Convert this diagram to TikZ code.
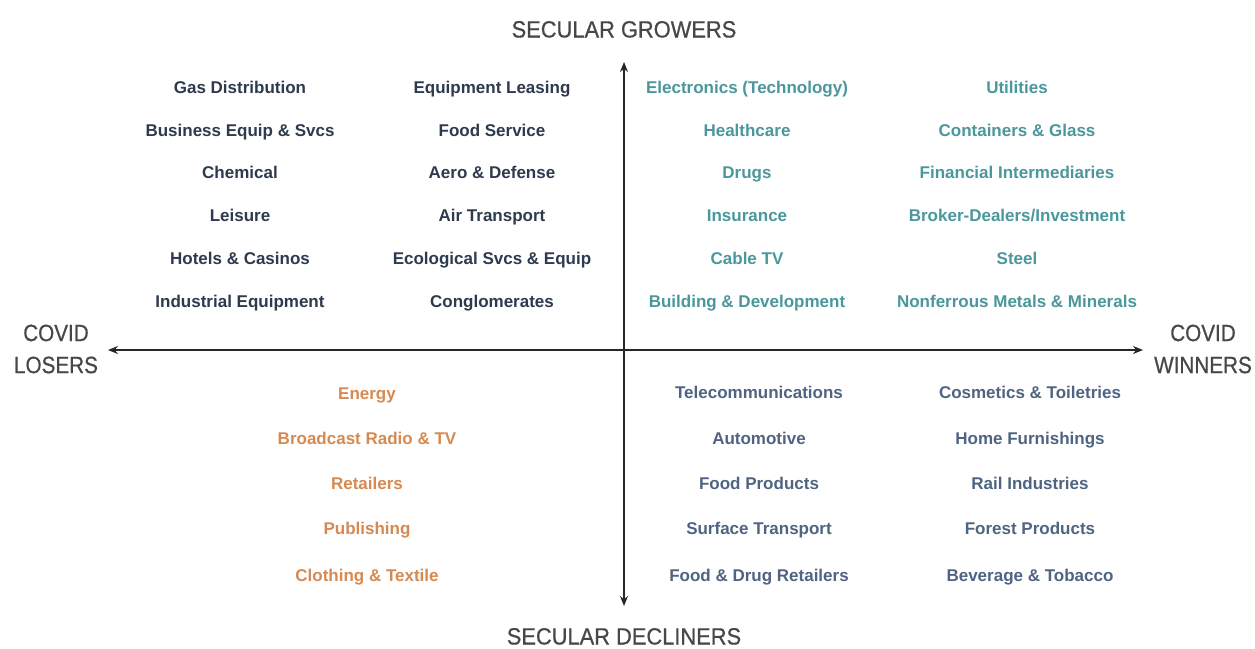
\documentclass[tikz,border=0pt]{standalone}
\usepackage{fontspec}
\setmainfont{Liberation Sans}
\newfontfamily\axisfont[FakeStretch=0.88,FakeBold=0.6]{Liberation Sans}
\newfontfamily\secfont[FakeStretch=0.93,FakeBold=0.6]{Liberation Sans}
\usetikzlibrary{arrows.meta}
\definecolor{navy}{HTML}{2E3A4E}
\definecolor{teal}{HTML}{4A979C}
\definecolor{orng}{HTML}{D68A52}
\definecolor{slate}{HTML}{4F6482}
\definecolor{axisgray}{HTML}{474747}
\tikzset{
  item/.style={font=\bfseries\fontsize{17}{20}\selectfont, inner sep=0pt, text height=12.2pt, text depth=0pt, anchor=center},
  tl/.style={item, text=navy},
  tr/.style={item, text=teal},
  bl/.style={item, text=orng},
  br/.style={item, text=slate},
  axlabel/.style={font=\axisfont\fontsize{23.5}{32}\selectfont, text=axisgray, align=center, inner sep=0pt},
  seclabel/.style={font=\secfont\fontsize{23.5}{28}\selectfont, text=axisgray, inner sep=0pt, text height=17pt, text depth=0pt},
  axis/.style={draw=black!85, line width=1.4pt, {Stealth[length=10pt,width=8pt]}-{Stealth[length=10pt,width=8pt]}}
}
\begin{document}
\begin{tikzpicture}[x=1pt,y=-1pt]
\useasboundingbox (0,0) rectangle (1255,648);
\fill[white] (0,0) rectangle (1255,648);
% axes
\coordinate (vtop) at (624,62);
\coordinate (vbot) at (624,606);
\coordinate (hl) at (108,350);
\coordinate (hr) at (1143,350);
\draw[axis] (vbot) -- (vtop);
\draw[axis] (hl) -- (hr);
% axis labels
\node[seclabel] (grow) at (624,29) {SECULAR GROWERS};
\node[seclabel] (decl) at (624,636) {SECULAR DECLINERS};
\node[axlabel] (lose) at (56,349) {COVID\\LOSERS};
\node[axlabel] (win) at (1203,349) {COVID\\WINNERS};
% top-left
\node[tl] (a1) at (240,87) {Gas Distribution};
\node[tl] (a2) at (240,130) {Business Equip \& Svcs};
\node[tl] (a3) at (240,172) {Chemical};
\node[tl] (a4) at (240,215) {Leisure};
\node[tl] (a5) at (240,258) {Hotels \& Casinos};
\node[tl] (a6) at (240,301) {Industrial Equipment};
\node[tl] (b1) at (492,87) {Equipment Leasing};
\node[tl] (b2) at (492,130) {Food Service};
\node[tl] (b3) at (492,172) {Aero \& Defense};
\node[tl] (b4) at (492,215) {Air Transport};
\node[tl] (b5) at (492,258) {Ecological Svcs \& Equip};
\node[tl] (b6) at (492,301) {Conglomerates};
% top-right
\node[tr] (c1) at (747,87) {Electronics (Technology)};
\node[tr] (c2) at (747,130) {Healthcare};
\node[tr] (c3) at (747,172) {Drugs};
\node[tr] (c4) at (747,215) {Insurance};
\node[tr] (c5) at (747,258) {Cable TV};
\node[tr] (c6) at (747,301) {Building \& Development};
\node[tr] (d1) at (1017,87) {Utilities};
\node[tr] (d2) at (1017,130) {Containers \& Glass};
\node[tr] (d3) at (1017,172) {Financial Intermediaries};
\node[tr] (d4) at (1017,215) {Broker-Dealers/Investment};
\node[tr] (d5) at (1017,258) {Steel};
\node[tr] (d6) at (1017,301) {Nonferrous Metals \& Minerals};
% bottom-left
\node[bl] (e1) at (367,393) {Energy};
\node[bl] (e2) at (367,438) {Broadcast Radio \& TV};
\node[bl] (e3) at (367,483) {Retailers};
\node[bl] (e4) at (367,528) {Publishing};
\node[bl] (e5) at (367,575) {Clothing \& Textile};
% bottom-right
\node[br] (f1) at (759,392) {Telecommunications};
\node[br] (f2) at (759,438) {Automotive};
\node[br] (f3) at (759,483) {Food Products};
\node[br] (f4) at (759,528) {Surface Transport};
\node[br] (f5) at (759,575) {Food \& Drug Retailers};
\node[br] (g1) at (1030,392) {Cosmetics \& Toiletries};
\node[br] (g2) at (1030,438) {Home Furnishings};
\node[br] (g3) at (1030,483) {Rail Industries};
\node[br] (g4) at (1030,528) {Forest Products};
\node[br] (g5) at (1030,575) {Beverage \& Tobacco};
\end{tikzpicture}
\end{document}
